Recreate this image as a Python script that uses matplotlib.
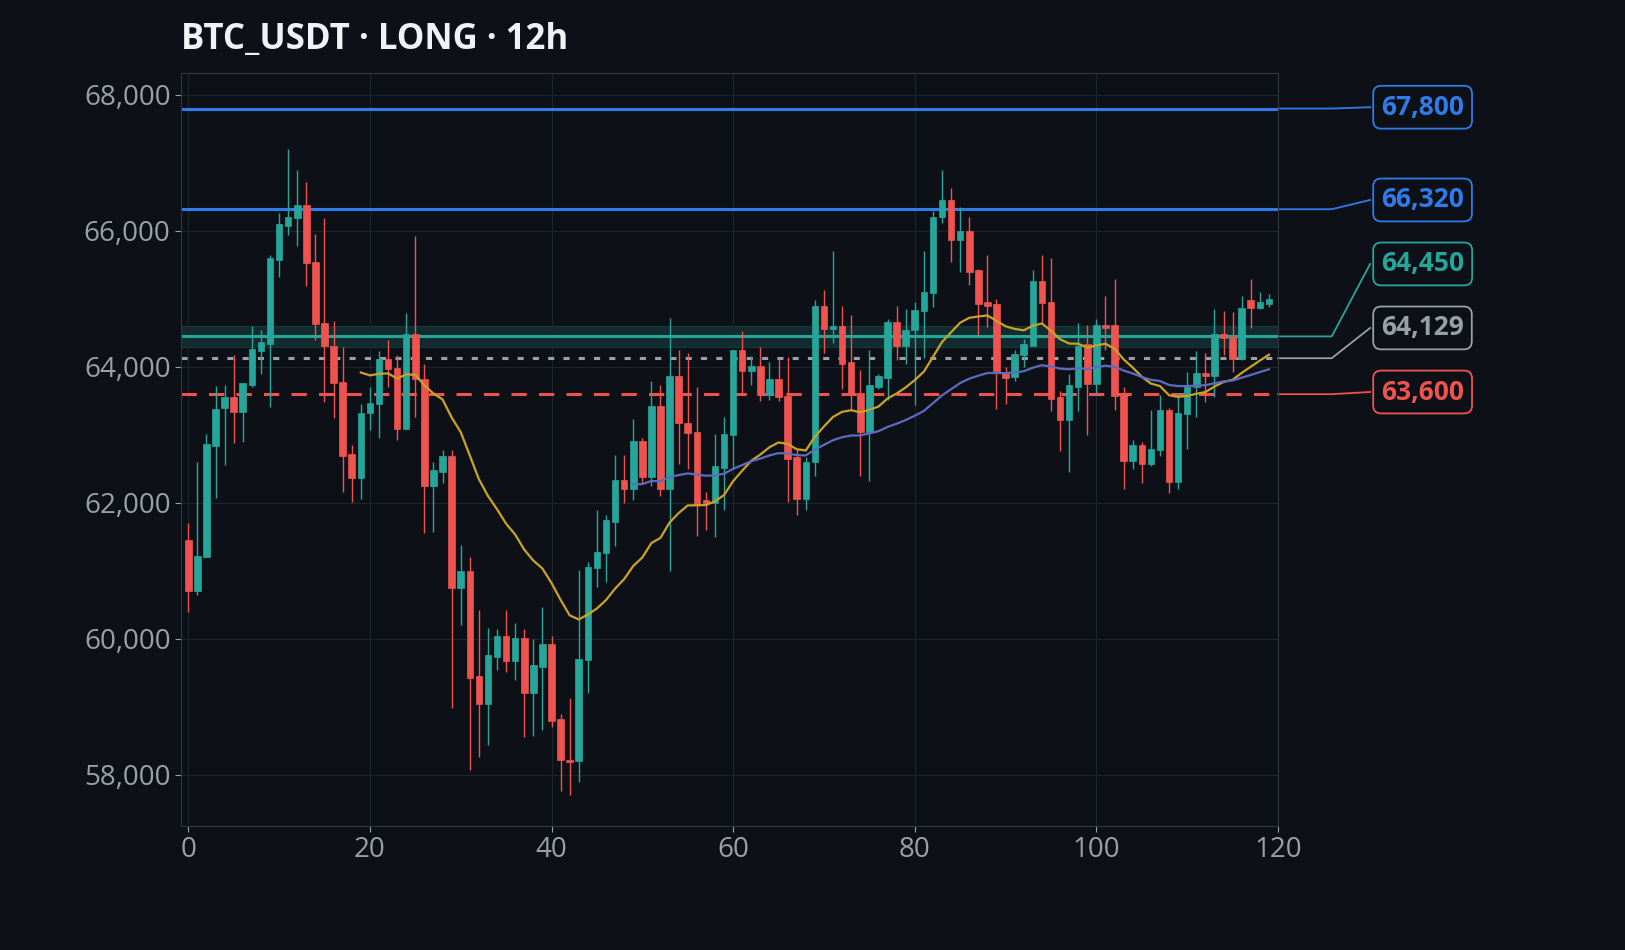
import matplotlib
matplotlib.use("Agg")
import matplotlib.pyplot as plt
import numpy as np
import pandas as pd
from matplotlib.patches import Rectangle

plt.rcParams['font.family'] = ['Open Sans', 'Noto Sans', 'DejaVu Sans']

opens = [61460,60710,61210,62840,63400,63560,63340,63730,64240,64340,65570,66070,66190,66380,65540,64650,64310,63780,62720,62370,
         63320,63460,64120,63990,63090,64490,63820,62250,62460,62690,60750,61000,59460,59040,59740,60050,59670,60020,59210,59590,
         59930,58830,58220,58200,59690,61040,61260,61720,62340,62210,62910,62380,63430,62210,63860,63170,63050,62040,62000,62510,
         63000,64250,63940,64010,63590,63830,63580,62680,62060,62600,64890,64560,64600,64070,63620,63040,63710,63840,64660,64310,
         64550,64820,65090,66200,66450,65870,66000,65420,64960,64930,63930,63850,64180,64310,65260,64960,63560,63220,63710,64340,
         63750,64620,64620,63600,62620,62850,62570,62780,63370,62310,63310,63700,63910,63860,64490,64440,64120,64990,64870,64930]
closes = [60710,61220,62870,63380,63560,63340,63770,64270,64370,65600,66100,66200,66380,65530,64630,64310,63760,62690,62370,63320,
          63470,64120,63970,63090,64490,63820,62250,62480,62690,60750,61000,59430,59040,59760,60050,59670,60020,59210,59620,59930,
          58800,58220,58190,59710,61060,61280,61750,62340,62210,62910,62380,63430,62210,63860,63170,63030,61990,62000,62540,63010,
          64250,63940,64010,63590,63830,63560,62650,62060,62600,64890,64560,64600,64050,63590,63040,63730,63860,64660,64310,64550,
          64840,65100,66200,66450,65870,66000,65400,64930,64900,63930,63840,64190,64340,65260,64940,63530,63220,63740,64310,63750,
          64620,64580,63580,62620,62850,62570,62800,63370,62310,63320,63710,63910,63860,64490,64420,64120,64870,64870,64950,65000]
highs = [61700,62600,63015,63720,63740,64180,63770,64600,64540,65640,66260,67200,66900,66720,65960,66190,64680,64290,62860,63460,
         63700,64230,64400,64170,64800,65930,64050,62600,62780,62780,61380,61200,60430,60160,60150,60430,60230,60140,60000,60470,
         60050,58900,59130,61020,61130,61900,61830,62700,62700,63230,62950,63800,63730,64720,64250,64200,63700,62160,63020,63260,
         64250,64530,64160,64300,64080,64120,64150,62800,62680,64980,65130,65700,64890,64760,63960,64250,63900,64700,64900,64850,
         64960,65700,66300,66900,66630,66350,66200,65440,65640,65000,64000,64250,64410,65420,65640,65600,63640,63900,64650,64620,
         64710,65050,65290,63700,62920,62900,63370,63590,63400,63610,63930,64240,64210,64850,64830,64810,65050,65300,65100,65080]
lows = [60400,60650,61210,62070,62560,62880,62900,63700,63900,63410,65330,65940,65780,65190,64390,63490,63250,62160,62020,62060,
        63070,62950,63700,62930,63090,63270,61560,61570,62300,58980,60200,58070,58270,58440,59540,59520,59400,58560,58580,58660,
        58700,57760,57700,57900,59210,60760,60840,61370,62000,62050,62300,62250,62100,61000,62570,62500,61520,61600,61500,61900,
        62520,63600,63740,63500,63520,63500,62020,61820,61900,62400,64210,64350,63680,63380,62390,62320,63680,63520,64100,64040,
        63440,64130,64880,66120,65550,65400,65200,64470,64590,63380,63460,63790,64000,64350,64630,63350,62760,62460,63350,63000,
        63600,64250,63370,62200,62500,62300,62540,62690,62150,62200,62800,63260,63490,63560,64180,63920,64100,64580,64850,64880]

level_prices = [67800, 66320, 64450, 64129, 63600]
level_labels = ["67,800", "66,320", "64,450", "64,129", "63,600"]
level_colors = ["#2f7be8", "#2f7be8", "#26a69a", "#9aa0a6", "#ef5350"]
level_styles = ["-", "-", "-", (0, (2, 3)), (0, (5, 4))]
label_y = [67820, 66456, 65515, 64574, 63632]
x_ticks = [0, 20, 40, 60, 80, 100, 120]
y_ticks = [58000, 60000, 62000, 64000, 66000, 68000]

BG = "#0d1117"
UP, DN = "#26a69a", "#ef5350"

fig = plt.figure(figsize=(16.25, 9.5), dpi=100, facecolor=BG)
ax = fig.add_axes([181/1625, 1-826/950, 1097/1625, 753/950], facecolor=BG)

o, c, h, l = map(np.array, (opens, closes, highs, lows))
x = np.arange(len(o))
cols = np.where(c >= o, UP, DN)
ax.vlines(x, l, h, colors=cols, linewidth=1.0, zorder=3)
for xi, oi, ci, col in zip(x, o, c, cols):
    lo, hi = min(oi, ci), max(oi, ci)
    ax.add_patch(Rectangle((xi - 0.36, lo), 0.72, max(hi - lo, 25), facecolor=col, edgecolor=col, lw=0.5, zorder=4))

s = pd.Series(closes, dtype=float)

def seeded_ema(series, n):
    t = series.copy()
    t[:n - 1] = np.nan
    t[n - 1] = series[:n].mean()
    return t.ewm(span=n, adjust=False).mean().values

ema20 = seeded_ema(s, 20)
ema50 = seeded_ema(s, 50)
ax.plot(x, ema20, color="#c9a227", lw=1.6, zorder=5)
ax.plot(x, ema50, color="#5c6bc0", lw=1.6, zorder=5)

ax.axhspan(64300, 64600, color="#26a69a", alpha=0.18, zorder=1)
trans = ax.get_yaxis_transform()
for p, lab, col, ls, ly in zip(level_prices, level_labels, level_colors, level_styles, label_y):
    ax.axhline(p, color=col, lw=2.2, ls=ls, zorder=2)
    ax.plot([1.0, 1.049, 1.084], [p, p, ly], color=col, lw=1.3, transform=trans, clip_on=False)
    ax.text(1.094, ly, lab, transform=trans, color=col, fontsize=19, fontweight="bold",
            va="center", ha="left",
            bbox=dict(boxstyle="round,pad=0.3,rounding_size=0.3", fc=BG, ec=col, lw=1.3))

ax.set_xlim(-0.8, 120)
ax.set_ylim(57250, 68323)
ax.set_xticks(x_ticks)
ax.set_yticks(y_ticks)
ax.set_yticklabels([f"{v:,}" for v in y_ticks])
ax.grid(True, color="#1e242c", lw=0.8, zorder=0)
ax.tick_params(colors="#9aa0a6", labelsize=20, length=4)
for sp in ax.spines.values():
    sp.set_color("#30363d")

fig.text(181/1625, 1-40/950, "BTC_USDT · LONG · 12h", color="#f0f3f6", fontsize=25,
         fontweight="bold", va="center", ha="left")

fig.savefig("out.png", dpi=100, facecolor=BG)
